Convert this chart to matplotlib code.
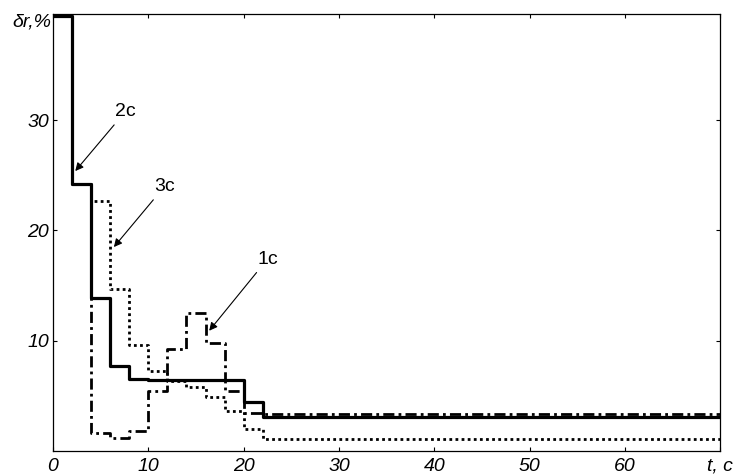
import numpy as np
import matplotlib
matplotlib.use('Agg')
import matplotlib.pyplot as plt

# ===============================================================================

t = [0, 2, 4, 6, 8, 10, 12, 14, 16, 18, 20, 22, 70]
r2c = [39.5, 24.2, 13.9, 7.7, 6.5, 6.45, 6.45, 6.45, 6.45, 6.45, 4.4, 3.1]
r3c = [39.5, 24.2, 22.7, 14.7, 9.6, 7.2, 6.3, 5.8, 4.9, 3.6, 2.0, 1.05]
r1c = [39.5, 24.2, 1.6, 1.15, 1.75, 5.4, 9.2, 12.5, 9.8, 5.4, 3.4, 3.35]

xticks = [0, 10, 20, 30, 40, 50, 60, 70]
xlabels = ['0', '10', '20', '30', '40', '50', '60', 't, c']
yticks = [10, 20, 30]
ylabels = ['10', '20', '30']

# ===============================================================================

plt.rcParams['font.family'] = ['Liberation Sans', 'DejaVu Sans']

fig = plt.figure(figsize=(7.42, 4.76), dpi=100)
ax = fig.add_axes([0.0714, 0.0530, 0.8995, 0.9176])

def ext(v):
    return list(v) + [v[-1]]

ax.plot(t, ext(r3c), drawstyle='steps-post', c='k', lw=2.0, ls=(0, (1, 1.2)))
ax.plot(t, ext(r1c), drawstyle='steps-post', c='k', lw=2.0, ls=(0, (4, 1.5, 1, 1.5)))
ax.plot(t, ext(r2c), drawstyle='steps-post', c='k', lw=2.3, ls='-')

ax.set_xlim(0, 70)
ax.set_ylim(0, 39.65)

ax.set_xticks(xticks)
ax.set_xticklabels(xlabels, fontsize=14, style='italic')
ax.set_yticks(yticks)
ax.set_yticklabels(ylabels, fontsize=14, style='italic')
ax.tick_params(direction='in', length=3, width=0.8, top=True, right=True)
ax.tick_params(axis='x', pad=5)
ax.tick_params(axis='y', pad=3)
for s in ax.spines.values():
    s.set_linewidth(0.9)

ax.text(-0.2, 38.9, 'δr,%', ha='right', va='center', fontsize=14, style='italic')

# annotations
arr = dict(arrowstyle='-|>', color='k', lw=0.8, mutation_scale=12)
ax.annotate('2c', xy=(2.15, 25.2), xytext=(7.6, 30.8), fontsize=14,
            ha='center', va='center', arrowprops=arr)
ax.annotate('3c', xy=(6.2, 18.3), xytext=(11.7, 24.0), fontsize=14,
            ha='center', va='center', arrowprops=arr)
ax.annotate('1c', xy=(16.2, 10.7), xytext=(22.5, 17.4), fontsize=14,
            ha='center', va='center', arrowprops=arr)

fig.savefig('out.png', dpi=100)
